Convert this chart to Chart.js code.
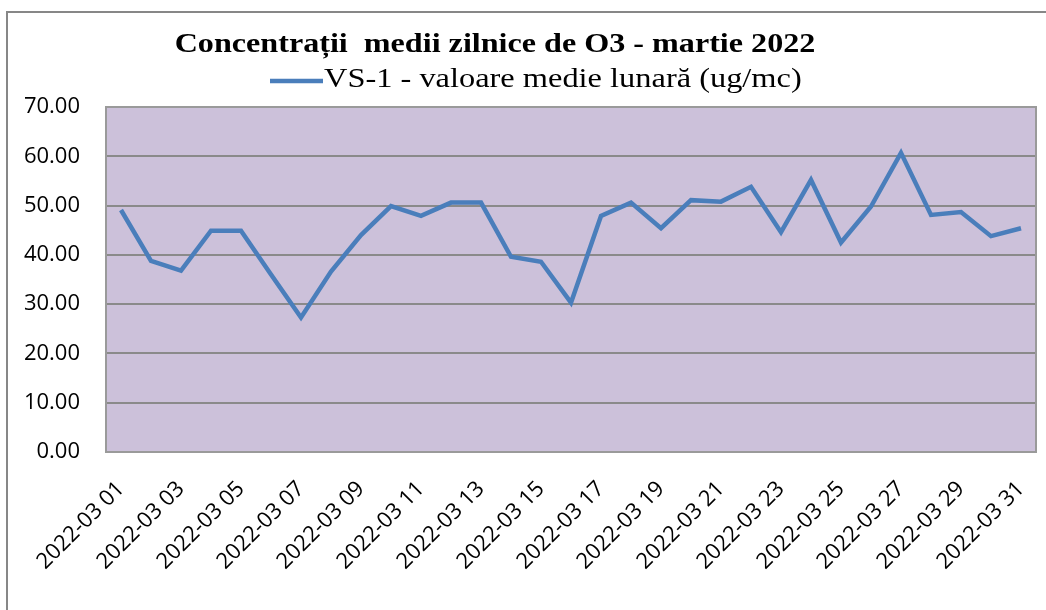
<!DOCTYPE html>
<html lang="ro">
<head>
  <meta charset="UTF-8">
  <title>Concentrații medii zilnice de O3 - martie 2022</title>
  <script src="https://cdn.jsdelivr.net/npm/chart.js"></script>
  <style>
    html, body { margin: 0; padding: 0; background: #ffffff; overflow: hidden; }
    #frame {
      position: absolute; left: 6px; top: 11px; width: 1100px; height: 700px;
      border: 2px solid #878787; box-sizing: border-box;
    }
    #wrap { position: absolute; left: 0; top: 0; width: 1046px; height: 610px; }
  </style>
</head>
<body>
  <div id="frame"></div>
  <div id="wrap"><canvas id="o3Chart"></canvas></div>
  <script>
    const chartTitle = 'Concentrații  medii zilnice de O3 - martie 2022';
    const seriesLabel = 'VS-1 - valoare medie lunară (ug/mc)';
    const days = [
      '2022-03 01', '2022-03 02', '2022-03 03', '2022-03 04', '2022-03 05', '2022-03 06',
      '2022-03 07', '2022-03 08', '2022-03 09', '2022-03 10', '2022-03 11', '2022-03 12',
      '2022-03 13', '2022-03 14', '2022-03 15', '2022-03 16', '2022-03 17', '2022-03 18',
      '2022-03 19', '2022-03 20', '2022-03 21', '2022-03 22', '2022-03 23', '2022-03 24',
      '2022-03 25', '2022-03 26', '2022-03 27', '2022-03 28', '2022-03 29', '2022-03 30',
      '2022-03 31'
    ];
    const o3Values = [
      49.1, 38.8, 36.8, 44.9, 44.9, 36.0, 27.3, 36.6, 44.0, 49.9, 47.9,
      50.6, 50.6, 39.6, 38.6, 30.3, 47.9, 50.6, 45.4, 51.1, 50.8, 53.8,
      44.6, 55.2, 42.5, 49.8, 60.7, 48.1, 48.7, 43.8, 45.4
    ];
    const yMin = 0, yMax = 70, yStep = 10;

    const lineColor = '#4A7EBB';
    const plotFill = '#CCC1DA';
    const gridColor = '#8A8A8A';
    const tickFont = { family: '"Open Sans", "DejaVu Sans", sans-serif', size: 22 };
    const serif = '"Liberation Serif", "Times New Roman", serif';

    // stretched text, the original is a bit wider than Liberation Serif
    function wideText(ctx, text, x, y, sx) {
      ctx.save();
      ctx.translate(x, y);
      ctx.scale(sx, 1);
      ctx.fillText(text, 0, 0);
      ctx.restore();
    }

    // plot background + border, title and legend drawn in the Excel layout
    const excelLook = {
      id: 'excelLook',
      beforeDraw(chart) {
        const { ctx, chartArea: a } = chart;
        ctx.save();
        ctx.fillStyle = plotFill;
        ctx.fillRect(a.left, a.top, a.right - a.left, a.bottom - a.top);
        ctx.restore();
      },
      afterDraw(chart) {
        const { ctx, chartArea: a } = chart;
        ctx.save();
        ctx.strokeStyle = '#9A9A9A';
        ctx.lineWidth = 2;
        ctx.strokeRect(a.left, a.top, a.right - a.left, a.bottom - a.top);

        ctx.fillStyle = '#000000';
        ctx.textBaseline = 'alphabetic';
        ctx.font = 'bold 27px ' + serif;
        ctx.textAlign = 'center';
        wideText(ctx, chartTitle, 495, 52, 1.19);

        ctx.strokeStyle = lineColor;
        ctx.lineWidth = 4.5;
        ctx.beginPath();
        ctx.moveTo(270, 81);
        ctx.lineTo(323, 81);
        ctx.stroke();
        ctx.font = '27px ' + serif;
        ctx.textAlign = 'left';
        wideText(ctx, chart.data.datasets[0].label, 324, 87, 1.2);
        ctx.restore();
      }
    };

    new Chart(document.getElementById('o3Chart'), {
      type: 'line',
      data: {
        labels: days,
        datasets: [{
          label: seriesLabel,
          data: o3Values,
          borderColor: lineColor,
          borderWidth: 4.5,
          pointRadius: 0,
          tension: 0,
          fill: false
        }]
      },
      options: {
        responsive: true,
        maintainAspectRatio: false,
        animation: false,
        layout: { padding: { top: 107, right: 10, left: 0, bottom: 0 } },
        plugins: {
          legend: { display: false },
          title: { display: false },
          tooltip: { enabled: false }
        },
        scales: {
          x: {
            offset: true,
            grid: { display: false, drawTicks: false },
            border: { display: false },
            afterFit(scale) {
              scale.height = 158;
              scale.paddingLeft = 0;
              scale.paddingRight = 0;
            },
            ticks: {
              autoSkip: false,
              maxRotation: 45,
              minRotation: 45,
              padding: 24,
              labelOffset: 0,
              color: '#000000',
              font: tickFont,
              callback(value, index) {
                return index % 2 === 0 ? this.getLabelForValue(value) : '';
              }
            }
          },
          y: {
            min: yMin,
            max: yMax,
            grid: { color: gridColor, lineWidth: 2, drawTicks: false },
            border: { display: false },
            afterFit(scale) { scale.width = 106; },
            ticks: {
              stepSize: yStep,
              padding: 26,
              color: '#000000',
              font: tickFont,
              callback: (v) => v.toFixed(2)
            }
          }
        }
      },
      plugins: [excelLook]
    });
  </script>
</body>
</html>
